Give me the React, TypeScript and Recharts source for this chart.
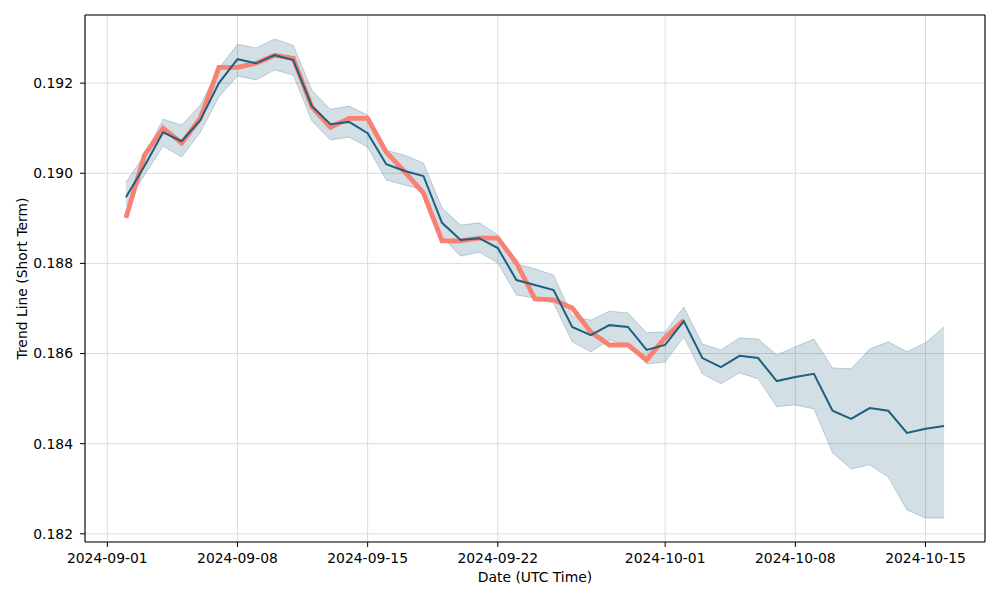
import React from 'react';
import { ComposedChart, Area, Line, XAxis, YAxis, CartesianGrid, ReferenceLine } from 'recharts';

const dates = [
  '2024-09-02', '2024-09-03', '2024-09-04', '2024-09-05', '2024-09-06', '2024-09-07', '2024-09-08', '2024-09-09', '2024-09-10', '2024-09-11',
  '2024-09-12', '2024-09-13', '2024-09-14', '2024-09-15', '2024-09-16', '2024-09-17', '2024-09-18', '2024-09-19', '2024-09-20', '2024-09-21',
  '2024-09-22', '2024-09-23', '2024-09-24', '2024-09-25', '2024-09-26', '2024-09-27', '2024-09-28', '2024-09-29', '2024-09-30', '2024-10-01',
  '2024-10-02', '2024-10-03', '2024-10-04', '2024-10-05', '2024-10-06', '2024-10-07', '2024-10-08', '2024-10-09', '2024-10-10', '2024-10-11',
  '2024-10-12', '2024-10-13', '2024-10-14', '2024-10-15', '2024-10-16',
];

const trend = [
  0.18947, 0.19016, 0.19091, 0.19071, 0.19118, 0.192, 0.19253, 0.19244, 0.19262, 0.19251,
  0.19149, 0.19109, 0.19114, 0.19089, 0.1902, 0.19005, 0.18994, 0.1889, 0.18852, 0.18856,
  0.18834, 0.18763, 0.18752, 0.18741, 0.18659, 0.18641, 0.18663, 0.18659, 0.18608, 0.18619,
  0.18672, 0.1859, 0.1857, 0.18595, 0.1859, 0.18539, 0.18548, 0.18555, 0.18473, 0.18455,
  0.18479, 0.18473, 0.18424, 0.18433, 0.18439,
];

const upper = [
  0.1898, 0.1904, 0.1912, 0.19107, 0.19151, 0.19233, 0.19286, 0.19278, 0.19298, 0.19284,
  0.19184, 0.19142, 0.19149, 0.19129, 0.19051, 0.1904, 0.19023, 0.18923, 0.18885, 0.1889,
  0.18863, 0.18799, 0.18788, 0.18774, 0.18683, 0.18674, 0.18694, 0.1869, 0.18646, 0.18648,
  0.18703, 0.18621, 0.18608, 0.18635, 0.18632, 0.18597, 0.18615, 0.18632, 0.18568, 0.18566,
  0.1861, 0.18626, 0.18604, 0.18624, 0.18659,
];

const lower = [
  0.18929, 0.18996, 0.1906, 0.19036, 0.19091, 0.19169, 0.19216, 0.19207, 0.19229, 0.19218,
  0.19116, 0.19074, 0.1908, 0.19058, 0.18985, 0.18974, 0.18963, 0.18859, 0.18816, 0.18825,
  0.18801, 0.1873, 0.18723, 0.18712, 0.18626, 0.18604, 0.1863, 0.18619, 0.18577, 0.18581,
  0.18637, 0.18555, 0.18533, 0.18557, 0.18544, 0.18482, 0.18486, 0.18477, 0.1838, 0.18344,
  0.18353, 0.18326, 0.18253, 0.18235, 0.18235,
];

const actual = [
  0.18901, 0.1904, 0.191, 0.19067, 0.19122, 0.19235, 0.19235, 0.19244, 0.19262, 0.19255,
  0.19147, 0.19102, 0.19122, 0.19122, 0.19047, 0.19003, 0.18956, 0.1885, 0.1885, 0.18856,
  0.18856, 0.18801, 0.18721, 0.18719, 0.18701, 0.18648, 0.18619, 0.18619, 0.18586, 0.18635,
  0.18674,
];

const xTickLabels = ['2024-09-01', '2024-09-08', '2024-09-15', '2024-09-22', '2024-10-01', '2024-10-08', '2024-10-15'];
const yTicks = [0.182, 0.184, 0.186, 0.188, 0.19, 0.192];

const DAY = 86400000;
const BASE = Date.UTC(2024, 8, 1);
const toDay = (s: string) => (Date.parse(s + 'T00:00:00Z') - BASE) / DAY;
const fromDay = (d: number) => new Date(BASE + Math.round(d) * DAY).toISOString().slice(0, 10);

const rows = dates.map((d, i) => ({
  x: toDay(d),
  band: [lower[i], upper[i]],
  trend: trend[i],
  actual: i < actual.length ? actual[i] : null,
}));

const xs = rows.map((r) => r.x);
const xMin = Math.min(...xs);
const xMax = Math.max(...xs);
const xPad = (xMax - xMin) * 0.05;
const xDomain = [xMin - xPad, xMax + xPad];

const yMinV = Math.min(...lower, ...actual);
const yMaxV = Math.max(...upper, ...actual);
const yPad = (yMaxV - yMinV) * 0.05;
const yDomain = [yMinV - yPad, yMaxV + yPad];

const FONT = "'DejaVu Sans', sans-serif";
const tickStyle = { fontSize: 13.9, fill: '#000', fontFamily: FONT };
const BLUE = '#1f5f7f';
const SALMON = '#fa8072';

export default function App() {
  return (
    <div style={{ position: 'absolute', left: 0, top: 0, width: 1000, height: 600, background: '#fff' }}>
      <ComposedChart width={1000} height={600} data={rows} margin={{ top: 15, right: 15, bottom: 0, left: 0 }}>
        <CartesianGrid stroke="#dcdcdc" strokeWidth={1} />
        <XAxis
          dataKey="x"
          type="number"
          domain={xDomain}
          allowDataOverflow
          ticks={xTickLabels.map(toDay)}
          tickFormatter={fromDay}
          height={58}
          tick={tickStyle}
          tickSize={5}
          tickMargin={6}
          tickLine={{ stroke: '#000' }}
          axisLine={{ stroke: '#000', strokeWidth: 1.1 }}
          label={{ value: 'Date (UTC Time)', position: 'insideBottom', offset: 18, fontSize: 13.9, fill: '#000', fontFamily: FONT }}
        />
        <YAxis
          type="number"
          domain={yDomain}
          allowDataOverflow
          ticks={yTicks}
          tickFormatter={(v: number) => v.toFixed(3)}
          width={85}
          tick={tickStyle}
          tickSize={5}
          tickMargin={7}
          tickLine={{ stroke: '#000' }}
          axisLine={{ stroke: '#000', strokeWidth: 1.1 }}
          label={{ value: 'Trend Line (Short Term)', angle: -90, position: 'insideLeft', offset: 22, textAnchor: 'middle', fontSize: 13.9, fill: '#000', fontFamily: FONT }}
        />
        <Area
          type="linear"
          dataKey="band"
          stroke={BLUE}
          strokeOpacity={0.25}
          strokeWidth={1}
          fill={BLUE}
          fillOpacity={0.2}
          isAnimationActive={false}
          dot={false}
          activeDot={false}
        />
        <Line
          type="linear"
          dataKey="actual"
          stroke={SALMON}
          strokeWidth={4.8}
          dot={false}
          activeDot={false}
          connectNulls={false}
          isAnimationActive={false}
        />
        <Line
          type="linear"
          dataKey="trend"
          stroke={BLUE}
          strokeWidth={2}
          dot={false}
          activeDot={false}
          isAnimationActive={false}
        />
        <ReferenceLine y={yDomain[1]} stroke="#000" strokeWidth={1.1} ifOverflow="visible" />
        <ReferenceLine x={xDomain[1]} stroke="#000" strokeWidth={1.1} ifOverflow="visible" />
      </ComposedChart>
    </div>
  );
}
